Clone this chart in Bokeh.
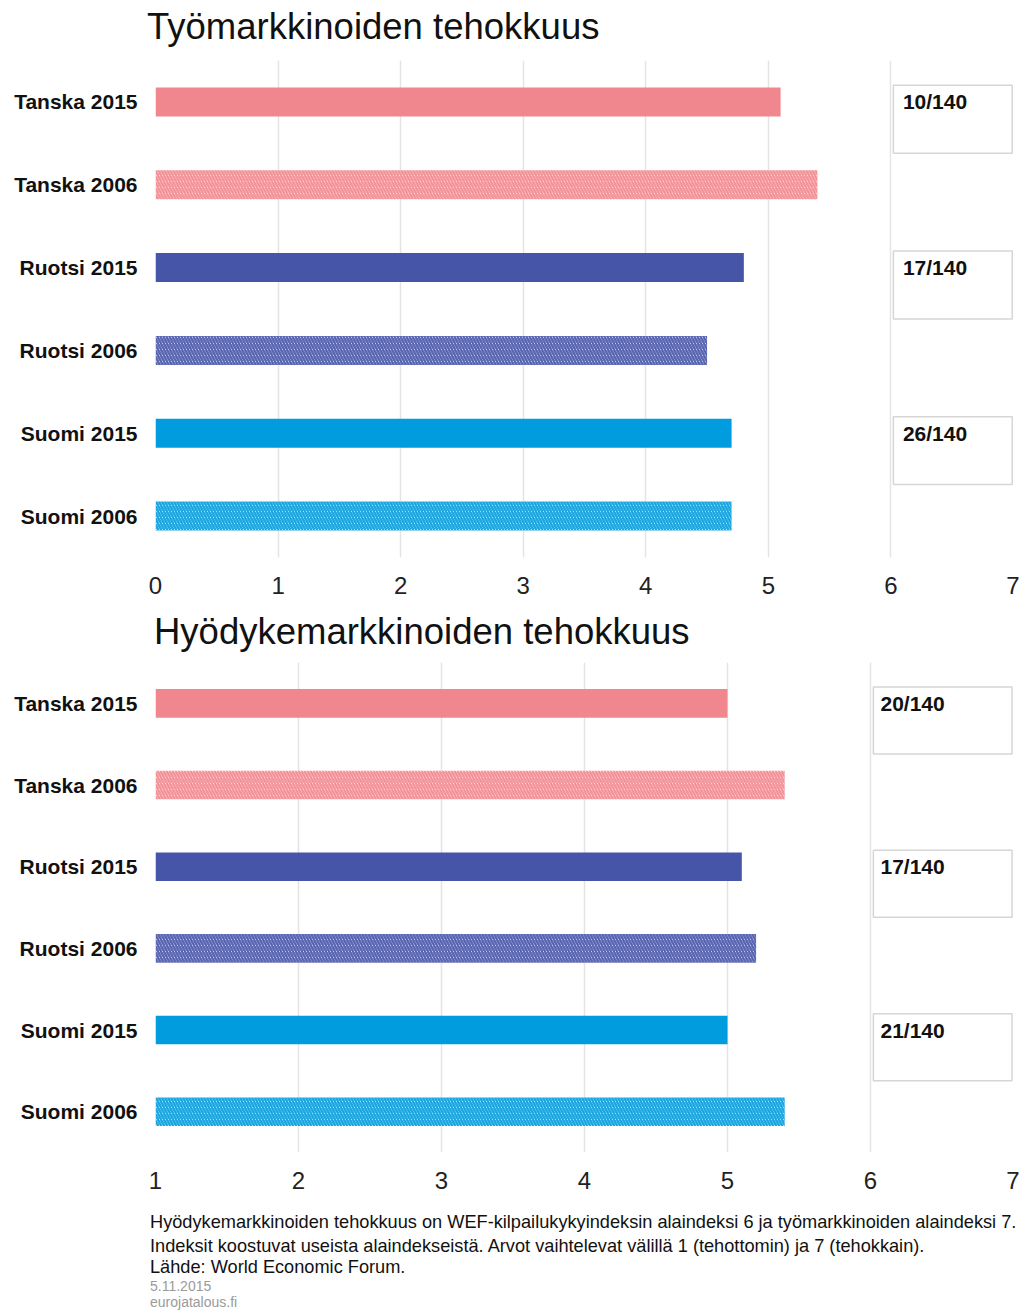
from bokeh.plotting import figure
from bokeh.layouts import column
from bokeh.models import Range1d, FixedTicker, ColumnDataSource, Div
from bokeh.core.properties import value
from bokeh.embed import file_html
from bokeh.resources import INLINE

# ---- data ----
row_labels = ["Tanska 2015", "Tanska 2006", "Ruotsi 2015", "Ruotsi 2006", "Suomi 2015", "Suomi 2006"]
row_years = ["2015", "2006", "2015", "2006", "2015", "2006"]
tyo_title = "Työmarkkinoiden tehokkuus"
tyo_values = [5.1, 5.4, 4.8, 4.5, 4.7, 4.7]
tyo_ranks = ["10/140", "17/140", "26/140"]
hyo_title = "Hyödykemarkkinoiden tehokkuus"
hyo_values = [5.0, 5.4, 5.1, 5.2, 5.0, 5.4]
hyo_ranks = ["20/140", "17/140", "21/140"]
footer_lines = [
    "Hyödykemarkkinoiden tehokkuus on WEF-kilpailukykyindeksin alaindeksi 6 ja työmarkkinoiden alaindeksi 7.",
    "Indeksit koostuvat useista alaindekseistä. Arvot vaihtelevat välillä 1 (tehottomin) ja 7 (tehokkain).",
    "Lähde: World Economic Forum.",
]
footer_meta = ["5.11.2015", "eurojatalous.fi"]

# ---- style ----
row_colors = ["#F0878E", "#F0878E", "#4655A8", "#4655A8", "#009CDE", "#009CDE"]
FONT = "Liberation Sans"
W = 1019


def title_div(text, height, left, center):
    html = ('<div style="position:relative;width:%dpx;height:%dpx;font-family:\'%s\';">'
            '<div style="position:absolute;left:%dpx;top:%dpx;font-size:36.5px;line-height:40px;'
            'color:#111;white-space:nowrap;">%s</div></div>') % (W, height, FONT, left, center - 20, text)
    return Div(text=html, width=W, height=height, margin=0)


def make_chart(values, ranks, x_start, height, border_top, border_bottom, text_x_off):
    p = figure(width=W, height=height, output_backend="svg", toolbar_location=None,
               x_range=Range1d(x_start, 7), y_range=Range1d(5.5, -0.5),
               min_border_left=155, min_border_right=6,
               min_border_top=border_top, min_border_bottom=border_bottom)
    p.outline_line_color = None
    p.background_fill_color = "white"
    p.border_fill_color = "white"
    p.ygrid.grid_line_color = None
    p.xgrid.grid_line_color = "#e4e4e4"
    p.xgrid.grid_line_width = 1.5
    p.xaxis.ticker = FixedTicker(ticks=list(range(int(x_start), 8)))
    p.xaxis.axis_line_color = None
    p.xaxis.major_tick_line_color = None
    p.xaxis.minor_tick_line_color = None
    p.xaxis.major_label_text_font = FONT
    p.xaxis.major_label_text_font_size = "24px"
    p.xaxis.major_label_text_color = "#222222"
    p.xaxis.major_label_standoff = 13
    idx = list(range(len(row_labels)))
    p.yaxis.ticker = FixedTicker(ticks=idx)
    p.yaxis.major_label_overrides = {i: lab for i, lab in zip(idx, row_labels)}
    p.yaxis.axis_line_color = None
    p.yaxis.major_tick_line_color = None
    p.yaxis.minor_tick_line_color = None
    p.yaxis.major_label_text_font = FONT
    p.yaxis.major_label_text_font_size = "21px"
    p.yaxis.major_label_text_font_style = "bold"
    p.yaxis.major_label_text_color = "#111111"
    p.yaxis.major_label_standoff = 12

    solid = [y == "2015" for y in row_years]
    src = ColumnDataSource(dict(
        y=idx, right=values, left=[x_start] * len(idx),
        fill=[c if s else "white" for c, s in zip(row_colors, solid)],
        hcol=row_colors,
        hpat=[" " if s else "\\" for s in solid],
    ))
    p.hbar(y="y", left="left", right="right", height=0.35, source=src,
           fill_color="fill", line_color=None,
           hatch_pattern="hpat", hatch_color="hcol", hatch_scale=6, hatch_weight=2.5,
           hatch_alpha=0.9)

    rank_rows = [i for i, s in zip(idx, solid) if s]
    rsrc = ColumnDataSource(dict(
        y=rank_rows, top=[r - 0.2 for r in rank_rows], bottom=[r + 0.62 for r in rank_rows],
        left=[6.02] * len(rank_rows), right=[6.99] * len(rank_rows), txt=ranks,
        tx=[6] * len(rank_rows),
    ))
    p.quad(left="left", right="right", top="top", bottom="bottom", source=rsrc,
           fill_color="white", line_color="#d6d6d6", line_width=1.5)
    p.text(x="tx", y="y", text="txt", source=rsrc, x_offset=text_x_off,
           text_font=value(FONT), text_font_size="21px", text_font_style="bold",
           text_color="#111111", text_baseline="middle", text_align="left")
    return p


t1 = title_div(tyo_title, 50, 147, 27)
p1 = make_chart(tyo_values, tyo_ranks, 0, 558, 10, 51, 12)
t2 = title_div(hyo_title, 44, 154, 24)
p2 = make_chart(hyo_values, hyo_ranks, 1, 548, 10, 48, 10)

# footer
tops = [12, 36, 57]
parts = ['<div style="position:relative;width:%dpx;height:110px;font-family:\'%s\';">' % (W, FONT)]
for t, line in zip(tops, footer_lines):
    parts.append('<div style="position:absolute;left:150px;top:%dpx;font-size:18.2px;'
                 'line-height:20px;color:#111;white-space:nowrap;">%s</div>' % (t, line))
for t, line in zip([78, 94], footer_meta):
    parts.append('<div style="position:absolute;left:150px;top:%dpx;font-size:14px;'
                 'line-height:16px;color:#9a9a9a;white-space:nowrap;">%s</div>' % (t, line))
parts.append('</div>')
footer = Div(text="".join(parts), width=W, height=110, margin=0)

layout = column(t1, p1, t2, p2, footer, spacing=0)
open("out.html", "w").write(file_html(layout, INLINE))
